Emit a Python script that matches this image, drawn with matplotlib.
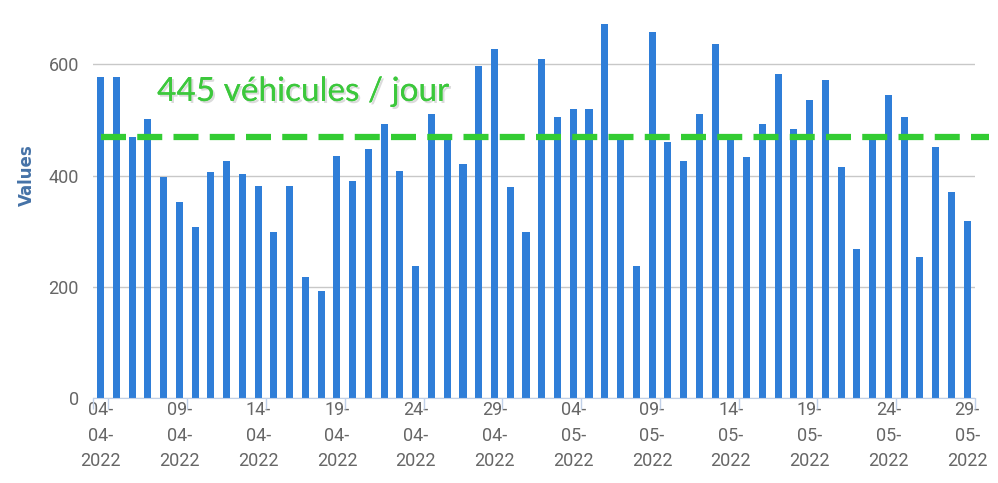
import numpy as np
import matplotlib.pyplot as plt
import matplotlib.patheffects as pe

dates = [f"{d:02d}-04-2022" for d in range(4, 31)] + [f"{d:02d}-05-2022" for d in range(1, 30)]
values = [
    577, 577, 469, 502, 397, 352, 307, 406, 427, 403,
    382, 298, 382, 217, 193, 436, 391, 448, 493, 409,
    238, 511, 468, 421, 597, 627, 379, 298, 609, 505,
    520, 520, 672, 475, 238, 657, 460, 427, 511, 636,
    465, 433, 493, 583, 484, 535, 571, 415, 268, 465,
    544, 505, 253, 451, 370, 319,
]
avg_line = 469
avg_text = "445 véhicules / jour"

fig = plt.figure(figsize=(9.98, 4.83), dpi=100)
ax = fig.add_axes([0.0929, 0.1754, 0.8841, 0.807])

x = np.arange(len(values))
ax.bar(x, values, width=0.45, color="#2f7ed8", zorder=2)

ax.set_xlim(-0.5, len(values) - 0.5)
ax.set_ylim(0, 700)
ax.set_yticks([0, 200, 400, 600])
ax.grid(axis="y", color="#c8c8c8", lw=1, zorder=0)
ax.tick_params(axis="y", length=0, labelsize=13, labelcolor="#666666", pad=10)

lab_idx = list(range(0, len(values), 5))
ax.set_xticks(lab_idx)
ax.set_xticklabels([dates[i].replace("-", "-\n", 2) for i in lab_idx],
                   fontsize=13, color="#666666", linespacing=1.55)
ax.tick_params(axis="x", length=0, pad=2)
ax.set_xticks([-0.5] + [i + 0.5 for i in lab_idx], minor=True)
ax.tick_params(axis="x", which="minor", length=8, color="#c0d0e8", width=1)

for s in ["top", "right", "left"]:
    ax.spines[s].set_visible(False)
ax.spines["bottom"].set_color("#c0d0e8")

ax.set_ylabel("Values", fontsize=12, fontweight="bold", color="#4572a7")
ax.yaxis.set_label_coords(-0.064, 0.573)

# average line runs a little past the plot area on the right
ax.plot([0, len(values) + 0.4], [avg_line, avg_line], color="#33cc33", lw=4.5,
        ls=(0, (4, 1.8)), zorder=3, clip_on=False)
ax.text(0.073, 0.786, avg_text, transform=ax.transAxes, fontsize=24, color="#3cc83c",
        family="Lato", va="center",
        path_effects=[pe.withSimplePatchShadow(offset=(1.5, -1.5), shadow_rgbFace="#888888", alpha=0.3),
                      pe.Normal()])

for t in ax.get_yticklabels() + ax.get_xticklabels():
    t.set_family("Roboto")

fig.savefig("out.png", dpi=100)
